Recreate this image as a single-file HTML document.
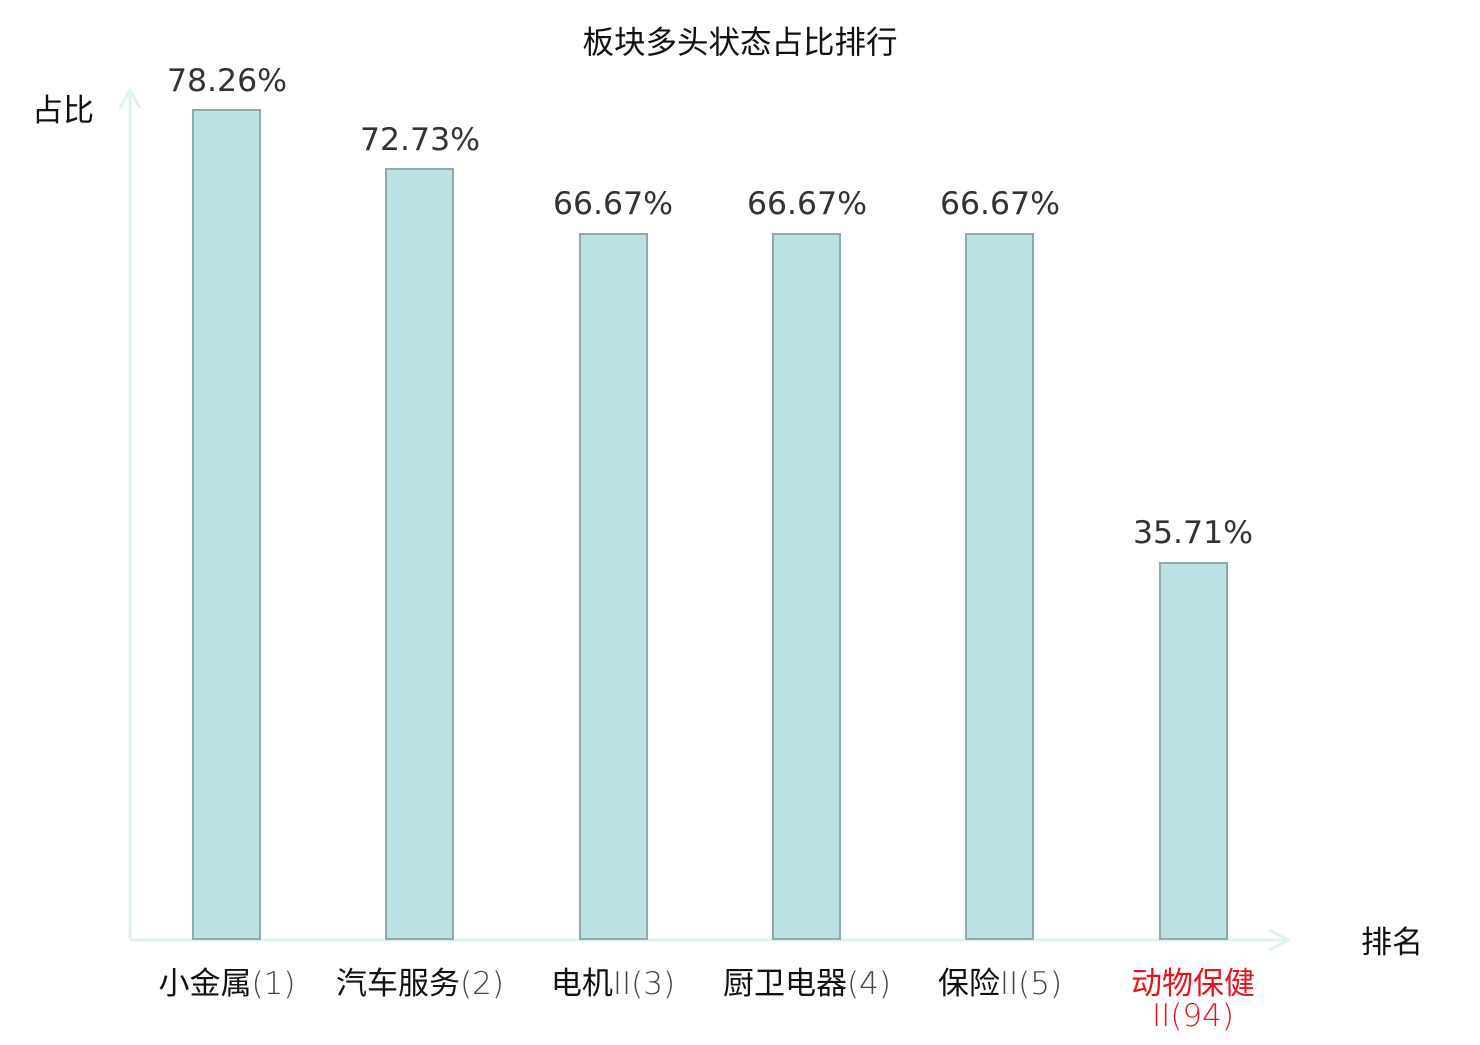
<!DOCTYPE html>
<html><head><meta charset="utf-8"><style>
body{margin:0;background:#fff}
text{font-family:"DejaVu Sans","Liberation Sans","Noto Sans CJK SC",sans-serif}
</style></head><body>
<svg width="1480" height="1040" xmlns="http://www.w3.org/2000/svg">
<text x="740" y="53" font-size="31.5" text-anchor="middle" fill="#111">板块多头状态占比排行</text>
<text x="63" y="121" font-size="31" text-anchor="middle" fill="#111">占比</text>
<text x="1392" y="953" font-size="31" text-anchor="middle" fill="#111">排名</text>
<g stroke="#dff2ef" stroke-width="3" fill="none">
<line x1="130" y1="940" x2="130" y2="90"/>
<polyline points="120,108 130,90 140,108"/>
<line x1="130" y1="940" x2="1288" y2="940"/>
<polyline points="1270,930 1288,940 1270,950"/>
</g>
<g fill="#bce1e4" stroke="#8eaaaa" stroke-width="2">
<rect x="193" y="110" width="67" height="829"/>
<rect x="386" y="169" width="67" height="770"/>
<rect x="580" y="234" width="67" height="705"/>
<rect x="773" y="234" width="67" height="705"/>
<rect x="966" y="234" width="67" height="705"/>
<rect x="1160" y="563" width="67" height="376"/>
</g>
<g font-size="31.5" fill="#333" text-anchor="middle">
<text x="227" y="91">78.26%</text>
<text x="420" y="150">72.73%</text>
<text x="613" y="214">66.67%</text>
<text x="807" y="214">66.67%</text>
<text x="1000" y="214">66.67%</text>
<text x="1193" y="543">35.71%</text>
</g>
<g font-size="31" fill="#111" text-anchor="middle">
<text x="227" y="994">小金属<tspan fill="#444" font-weight="300">(1)</tspan></text>
<text x="420" y="994">汽车服务<tspan fill="#444" font-weight="300">(2)</tspan></text>
<text x="613" y="994">电机<tspan fill="#444" font-weight="300">II(3)</tspan></text>
<text x="807" y="994">厨卫电器<tspan fill="#444" font-weight="300">(4)</tspan></text>
<text x="1000" y="994">保险<tspan fill="#444" font-weight="300">II(5)</tspan></text>
<text x="1193" y="994" fill="#e8141c">动物保健</text>
<text x="1193" y="1026" fill="#e8141c" font-weight="300">II(94)</text>
</g>
</svg>
</body></html>
